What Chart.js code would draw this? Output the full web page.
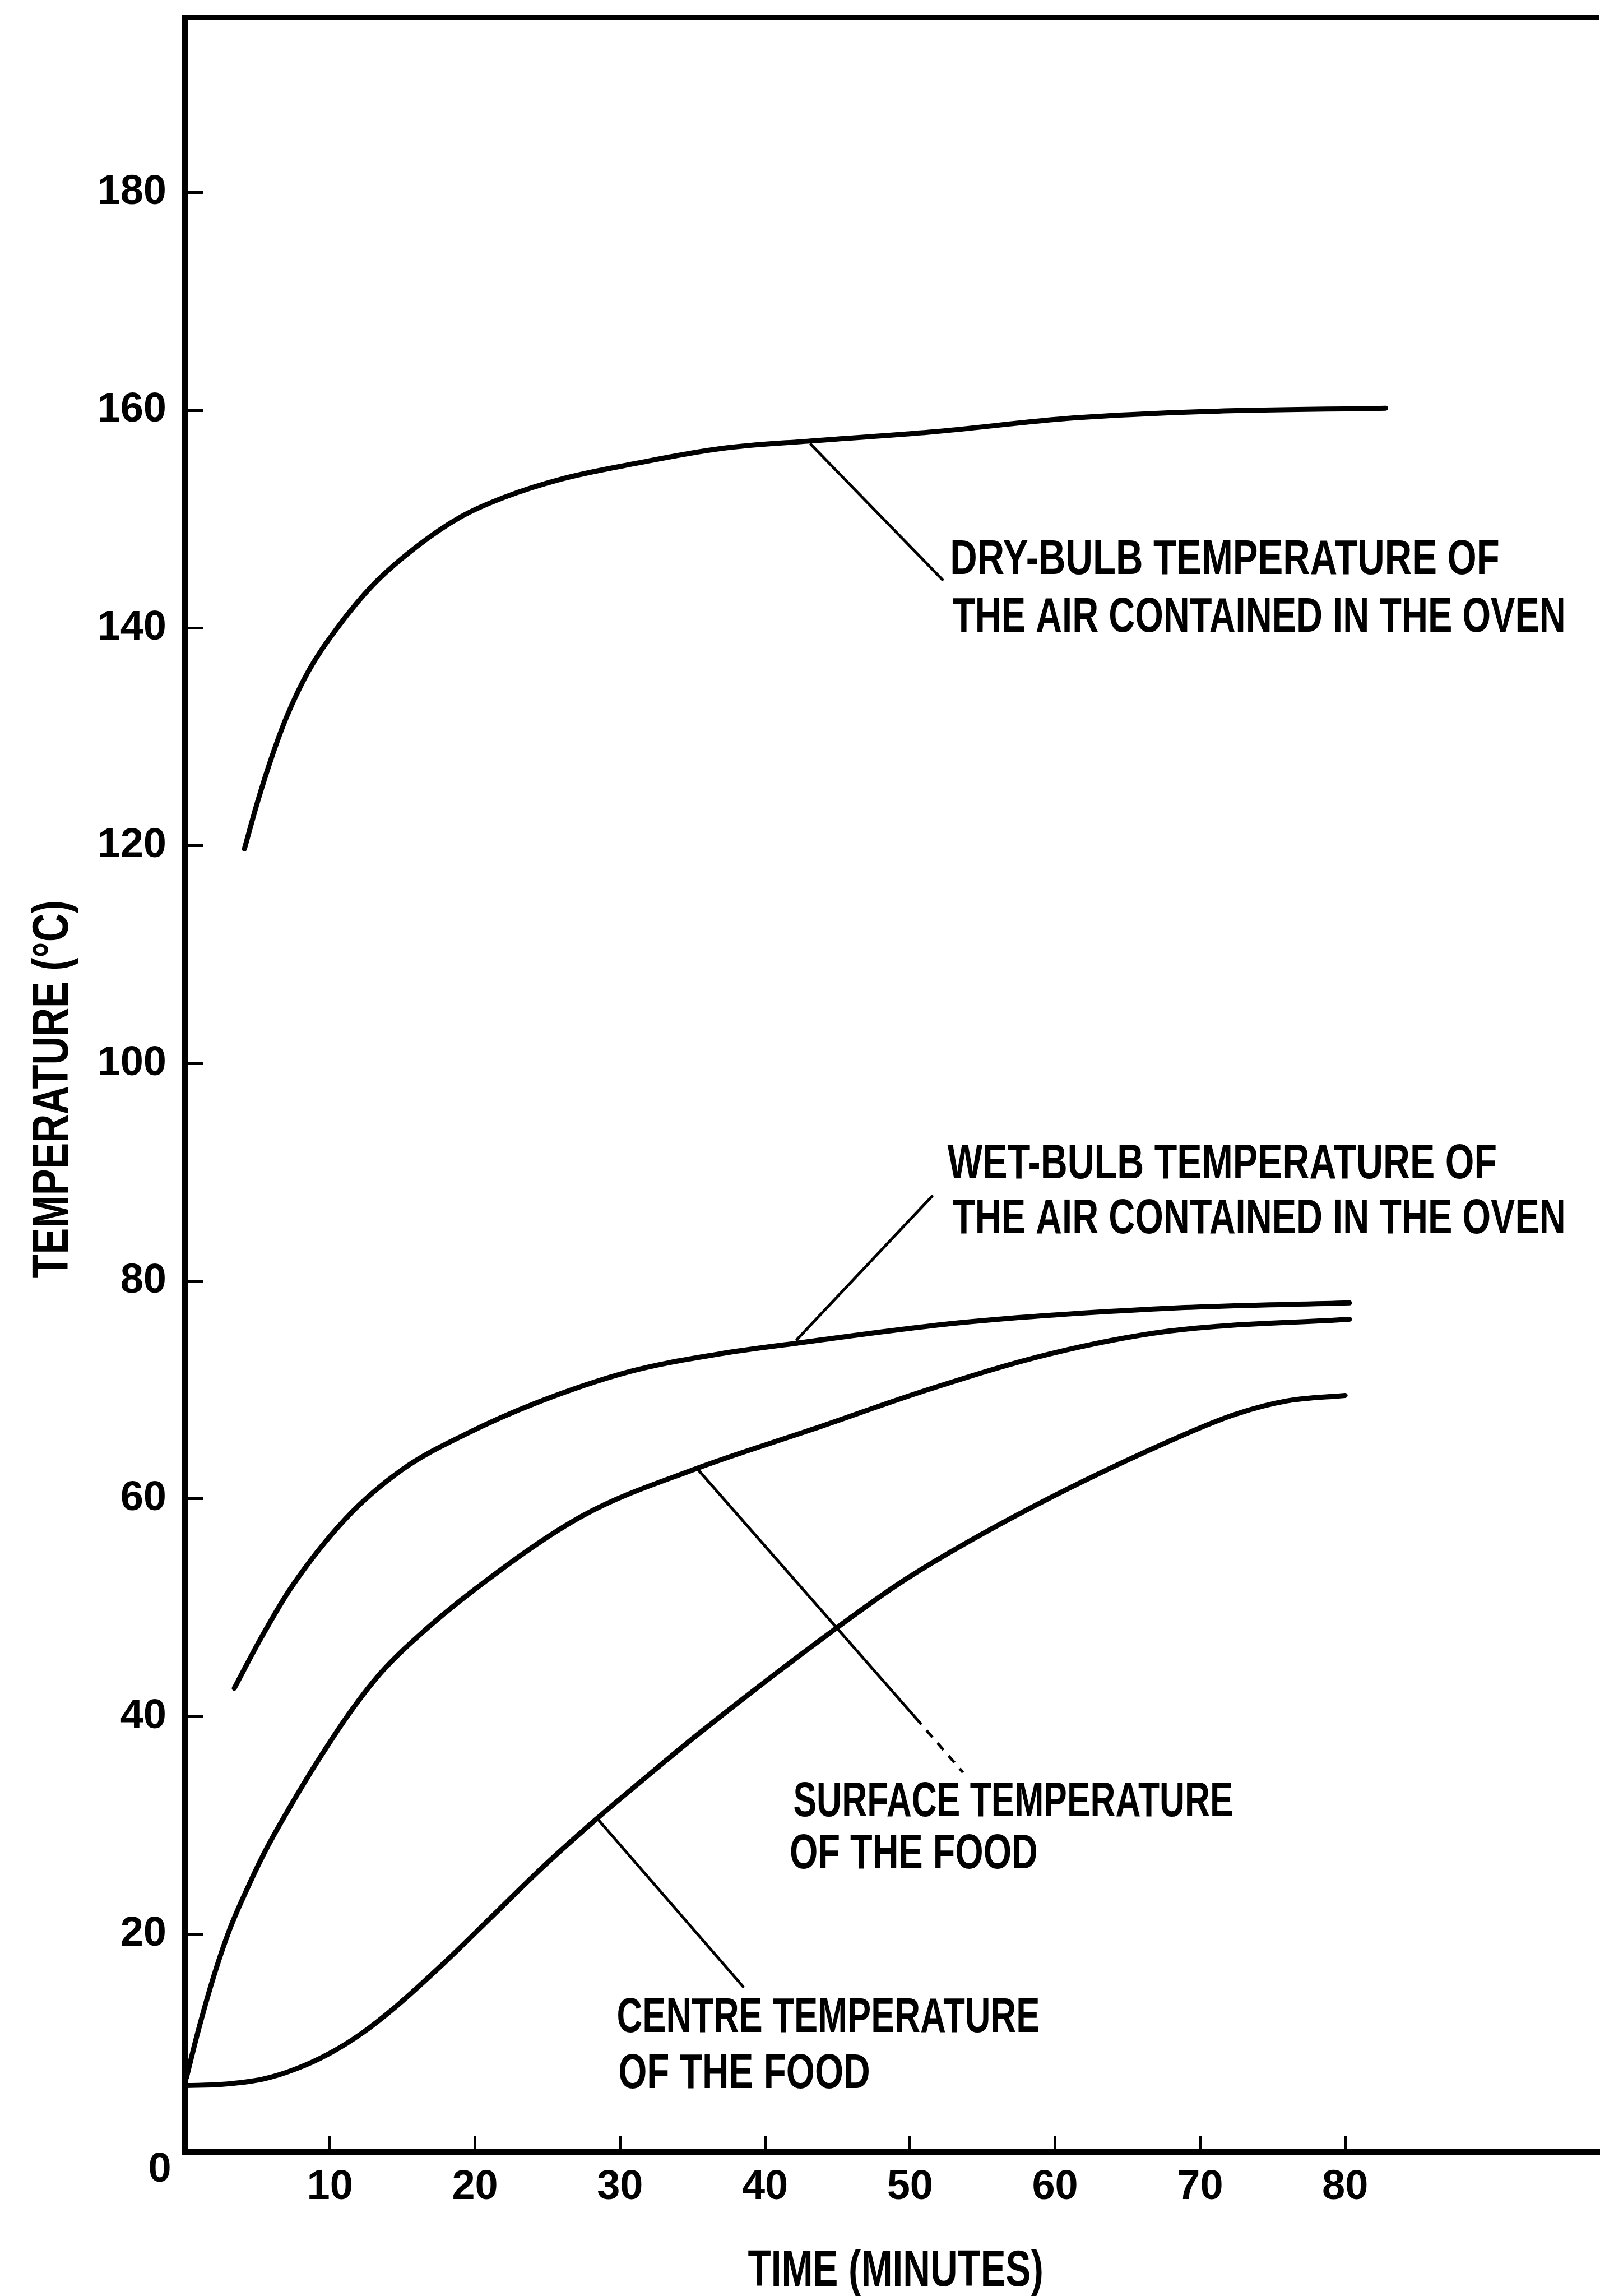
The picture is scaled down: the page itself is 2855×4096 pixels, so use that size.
<!DOCTYPE html>
<html>
<head>
<meta charset="utf-8">
<title>Oven and food temperatures</title>
<script src="https://cdn.jsdelivr.net/npm/chart.js@4.4.1/dist/chart.umd.min.js"></script>
<style>
  html, body { margin: 0; padding: 0; background: #fff; overflow: hidden; }
  #wrap { position: relative; width: 2855px; height: 4096px; }
</style>
</head>
<body>
<div id="wrap"><canvas id="chart"></canvas></div>
<script>
// Values: time in minutes, temperature in deg C
const dryTime = [4.1, 5.0, 6.0, 7.0, 8.5, 10.5, 13.0, 16.0, 19.0, 22.0, 26.0, 31.0, 37.0, 43.3, 51.4, 61.3, 70.5, 82.8];
const dryTemp = [119.7, 124.0, 128.2, 131.8, 136.0, 140.0, 144.0, 147.5, 150.2, 152.0, 153.7, 155.1, 156.5, 157.2, 158.0, 159.3, 159.9, 160.2];

const wetTime = [3.4, 5.2, 7.3, 11.1, 15.0, 19.3, 24.2, 30.7, 36.8, 42.2, 53.6, 67.8, 80.3];
const wetTemp = [42.6, 47.1, 51.8, 58.2, 62.7, 65.9, 68.8, 71.7, 73.3, 74.3, 76.2, 77.5, 78.0];

const surfTime = [0.1, 0.85, 2.0, 3.1, 4.3, 5.6, 7.2, 9.2, 11.5, 13.5, 15.6, 20.1, 27.5, 35.1, 43.3, 51.4, 59.6, 67.8, 80.3];
const surfTemp = [6.8, 10.8, 16.2, 20.5, 24.2, 27.8, 31.6, 36.0, 40.6, 44.0, 46.8, 51.8, 58.5, 62.7, 66.4, 70.1, 73.3, 75.4, 76.5];

const centTime = [0.1, 2.5, 5.4, 7.6, 9.9, 12.2, 14.5, 17.9, 21.3, 24.7, 28.3, 31.5, 35.5, 44.9, 49.8, 58.5, 68.9, 72.5, 76.0, 80.0];
const centTemp = [6.1, 6.2, 6.7, 7.6, 9.0, 10.9, 13.3, 17.4, 21.8, 26.2, 30.5, 34.1, 38.5, 48.1, 52.7, 59.3, 65.9, 67.8, 69.0, 69.5];

const xTicks = [0, 10, 20, 30, 40, 50, 60, 70, 80];
const yTicks = [0, 20, 40, 60, 80, 100, 120, 140, 160, 180];

const FONT = "'Liberation Sans', Arial, sans-serif";

// 1. Callouts: leader line (data units) and the text lines it points to
const callouts = [
  { from: [43.16, 156.87], to: [52.23, 144.45], lines: [
    { text: "DRY-BULB TEMPERATURE OF", x0: 52.76, x1: 90.65, y: 146.58 },
    { text: "THE AIR CONTAINED IN THE OVEN", x0: 52.94, x1: 95.21, y: 141.27 }
  ] },
  { from: [42.19, 74.62], to: [51.52, 87.80], lines: [
    { text: "WET-BULB TEMPERATURE OF", x0: 52.58, x1: 90.47, y: 91.08 },
    { text: "THE AIR CONTAINED IN THE OVEN", x0: 52.94, x1: 95.21, y: 86.0 }
  ] },
  { from: [35.36, 62.71], to: [50.38, 39.89], dashTo: [53.65, 34.87], lines: [
    { text: "SURFACE TEMPERATURE", x0: 41.95, x1: 72.29, y: 32.45 },
    { text: "OF THE FOOD", x0: 41.70, x1: 58.81, y: 27.66 }
  ] },
  { from: [28.57, 30.41], to: [38.49, 15.18], lines: [
    { text: "CENTRE TEMPERATURE", x0: 29.78, x1: 58.95, y: 12.62 },
    { text: "OF THE FOOD", x0: 29.88, x1: 47.25, y: 7.49 }
  ] }
];
const originLabel = { text: "0", x: -1.74, y: -1.66 };
const xTitle = { text: "TIME (MINUTES)", x0: 38.82, x1: 59.2, y: -10.63 };
const yTitle = { text: "TEMPERATURE (°C)", x: -9.32, y0: 80.26, y1: 114.98 };

const series = [
  { label: "Dry-bulb temperature of the air contained in the oven", time: dryTime, temp: dryTemp },
  { label: "Wet-bulb temperature of the air contained in the oven", time: wetTime, temp: wetTemp },
  { label: "Surface temperature of the food", time: surfTime, temp: surfTemp },
  { label: "Centre temperature of the food", time: centTime, temp: centTemp }
];

// 2. Condensed lettering: text squeezed to the length it has in the figure
function drawSqueezed(ctx, text, cx, cy, length, size, angle) {
  ctx.font = "bold " + size + "px " + FONT;
  const w = ctx.measureText(text).width;
  ctx.save();
  ctx.translate(cx, cy);
  ctx.rotate(angle);
  ctx.scale(length / w, 1);
  ctx.textAlign = "center";
  ctx.textBaseline = "alphabetic";
  ctx.fillText(text, 0, size * 0.358);
  ctx.restore();
}

const calloutPlugin = {
  id: "callouts",
  afterDatasetsDraw(chart) {
    const { ctx } = chart;
    const x = chart.scales.x, y = chart.scales.y;
    ctx.save();
    ctx.strokeStyle = "#000";
    ctx.fillStyle = "#000";
    ctx.lineCap = "round";
    ctx.lineWidth = 5;
    callouts.forEach(c => {
      ctx.beginPath();
      ctx.moveTo(x.getPixelForValue(c.from[0]), y.getPixelForValue(c.from[1]));
      ctx.lineTo(x.getPixelForValue(c.to[0]), y.getPixelForValue(c.to[1]));
      ctx.stroke();
      if (c.dashTo) {
        ctx.save();
        ctx.setLineDash([16, 14]);
        ctx.lineCap = "butt";
        ctx.beginPath();
        ctx.moveTo(x.getPixelForValue(c.to[0]), y.getPixelForValue(c.to[1]));
        ctx.lineTo(x.getPixelForValue(c.dashTo[0]), y.getPixelForValue(c.dashTo[1]));
        ctx.stroke();
        ctx.restore();
      }
      c.lines.forEach(l => {
        const left = x.getPixelForValue(l.x0), right = x.getPixelForValue(l.x1);
        drawSqueezed(ctx, l.text, (left + right) / 2, y.getPixelForValue(l.y), right - left, 88, 0);
      });
    });

    // axis titles
    const xl = x.getPixelForValue(xTitle.x0), xr = x.getPixelForValue(xTitle.x1);
    drawSqueezed(ctx, xTitle.text, (xl + xr) / 2, y.getPixelForValue(xTitle.y), xr - xl, 90, 0);
    const yb = y.getPixelForValue(yTitle.y0), yt = y.getPixelForValue(yTitle.y1);
    drawSqueezed(ctx, yTitle.text, x.getPixelForValue(yTitle.x), (yb + yt) / 2, yb - yt, 90, -Math.PI / 2);

    // the single "0" shared by both axes sits below-left of the origin
    ctx.font = "bold 74px " + FONT;
    ctx.textAlign = "center";
    ctx.textBaseline = "middle";
    ctx.fillText(originLabel.text, x.getPixelForValue(originLabel.x), y.getPixelForValue(originLabel.y));
    ctx.restore();
  }
};

// 3. Chart
const tickFont = { family: FONT, size: 74, weight: "bold", lineHeight: 1 };

new Chart(document.getElementById("chart"), {
  type: "line",
  data: {
    datasets: series.map(s => ({
      label: s.label,
      data: s.time.map((t, i) => ({ x: t, y: s.temp[i] })),
      borderColor: "#000",
      borderWidth: 9,
      pointRadius: 0,
      fill: false,
      cubicInterpolationMode: "monotone",
      borderCapStyle: "round",
      borderJoinStyle: "round"
    }))
  },
  options: {
    responsive: true,
    maintainAspectRatio: false,
    animation: false,
    events: [],
    layout: { padding: { top: 31, right: 2, left: 0, bottom: 0 } },
    plugins: { legend: { display: false }, tooltip: { enabled: false } },
    scales: {
      x: {
        type: "linear",
        position: "bottom",
        min: 0,
        max: 97.5,
        afterBuildTicks: s => { s.ticks = xTicks.map(v => ({ value: v })); },
        afterFit: s => { s.height = 257; s.paddingLeft = 0; s.paddingRight = 0; },
        grid: { drawOnChartArea: false, tickLength: -28, color: "#000", lineWidth: 5 },
        border: { color: "#000", width: 10.5 },
        ticks: {
          color: "#000", font: tickFont, padding: 55, maxRotation: 0, autoSkip: false,
          callback: v => (v === 0 ? "" : String(v))
        },
        title: { display: false }
      },
      y: {
        type: "linear",
        position: "left",
        min: 0,
        max: 196.1,
        afterBuildTicks: s => { s.ticks = yTicks.map(v => ({ value: v })); },
        afterFit: s => { s.width = 330; s.paddingTop = 0; s.paddingBottom = 0; },
        grid: { drawOnChartArea: false, tickLength: -33, color: "#000", lineWidth: 5 },
        border: { color: "#000", width: 11 },
        ticks: {
          color: "#000", font: tickFont, padding: 66, autoSkip: false,
          callback: v => (v === 0 ? "" : String(v))
        },
        title: { display: false }
      },
      xTop: {
        type: "linear",
        position: "top",
        min: 0,
        max: 97.5,
        afterFit: s => { s.height = 0; s.paddingLeft = 0; s.paddingRight = 0; },
        grid: { display: false },
        ticks: { display: false },
        border: { color: "#000", width: 8 }
      }
    }
  },
  plugins: [calloutPlugin]
});
</script>
</body>
</html>
